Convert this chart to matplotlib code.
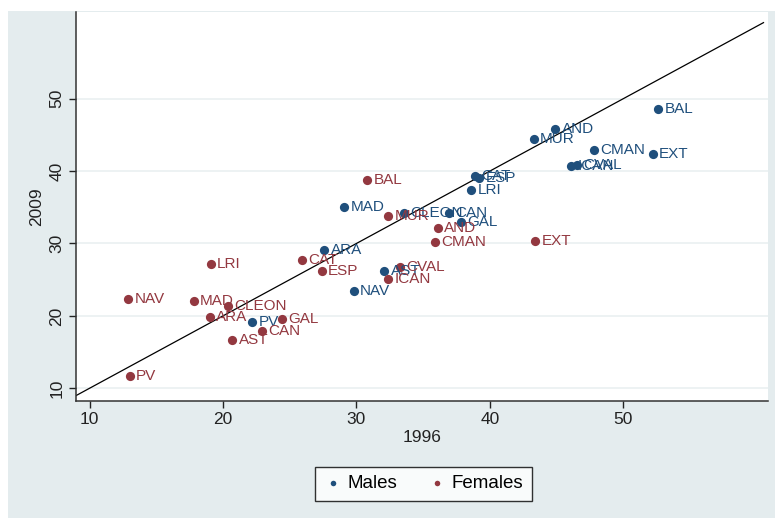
import matplotlib

matplotlib.use("Agg")

import matplotlib.pyplot as plt
from matplotlib.patches import Rectangle

plt.rcParams["font.family"] = ["Liberation Sans", "DejaVu Sans"]

# Datos (1996 vs 2009)
regiones_h = ["BAL", "AND", "MUR", "CMAN", "EXT", "ICAN", "CVAL", "CAT", "ESP", "LRI",
              "GAL", "CAN", "CLEON", "MAD", "ARA", "AST", "NAV", "PV"]
h_1996 = [52.6, 44.9, 43.3, 47.8, 52.2, 46.1, 46.5, 38.9, 39.2, 38.6,
          37.8, 36.9, 33.6, 29.1, 27.6, 32.1, 29.8, 22.2]
h_2009 = [48.6, 45.8, 44.4, 42.9, 42.3, 40.7, 40.8, 39.3, 39.0, 37.4,
          32.9, 34.2, 34.2, 35.0, 29.1, 26.2, 23.5, 19.2]

regiones_m = ["BAL", "MUR", "AND", "CMAN", "EXT", "CAT", "ESP", "CVAL", "ICAN", "LRI",
              "NAV", "MAD", "CLEON", "ARA", "GAL", "CAN", "AST", "PV"]
m_1996 = [30.8, 32.4, 36.1, 35.9, 43.4, 25.9, 27.4, 33.3, 32.4, 19.1,
          12.9, 17.8, 20.4, 19.0, 24.4, 22.9, 20.7, 13.0]
m_2009 = [38.7, 33.8, 32.1, 30.2, 30.3, 27.7, 26.2, 26.7, 25.1, 27.1,
          22.3, 22.0, 21.4, 19.9, 19.5, 17.9, 16.7, 11.7]

linea_45 = [9.0, 60.5]

AZUL = "#1f4f7c"
ROJO = "#933840"
FONDO = "#e4ecee"

fig = plt.figure(figsize=(7.75, 5.21), dpi=100)
fig.patches.append(Rectangle((8 / 775, 3 / 521), 1 - 8 / 775, 1 - 14 / 521,
                             transform=fig.transFigure, facecolor=FONDO,
                             edgecolor="none", zorder=-10))
ax = fig.add_axes([0.0981, 0.2311, 0.8929, 0.7459])
ax.set_facecolor("white")

ax.plot(linea_45, linea_45, color="black", linewidth=0.9, zorder=2)

for nombres, xs, ys, color, etiqueta in [
    (regiones_h, h_1996, h_2009, AZUL, "Males"),
    (regiones_m, m_1996, m_2009, ROJO, "Females"),
]:
    ax.scatter(xs, ys, s=44, color=color, label=etiqueta, zorder=3, linewidths=0)
    for nombre, x, y in zip(nombres, xs, ys):
        ax.annotate(nombre, (x, y), xytext=(4.5, 0), textcoords="offset points",
                    va="center", ha="left", color=color, fontsize=11, zorder=4)

ax.set_xlim(8.99, 60.84)
ax.set_ylim(8.3, 61.97)
ax.set_xticks([10, 20, 30, 40, 50])
ax.set_yticks([10, 20, 30, 40, 50])
ax.tick_params(axis="both", direction="out", length=5, width=1, labelsize=12.5,
               colors="#222222")
for lab in ax.get_yticklabels():
    lab.set_rotation(90)
    lab.set_va("center")
ax.grid(axis="y", color="#eaf0f1", linewidth=1.2)
ax.set_axisbelow(True)
for lado in ["top", "right"]:
    ax.spines[lado].set_visible(False)
for lado in ["left", "bottom"]:
    ax.spines[lado].set_color("#333333")
    ax.spines[lado].set_linewidth(1.1)

ax.set_xlabel("1996", fontsize=12.5, color="#222222", labelpad=2)
ax.set_ylabel("2009", fontsize=12.5, color="#222222", labelpad=4)

leg = ax.legend(loc="center", bbox_to_anchor=(423.5 / 775, 1 - 483.7 / 521),
                bbox_transform=fig.transFigure, ncol=2, fontsize=13.5,
                markerscale=0.6, handletextpad=0.3, columnspacing=1.6,
                frameon=True, fancybox=False, borderpad=0.45, handlelength=1.0)
leg.get_frame().set_edgecolor("black")
leg.get_frame().set_linewidth(1.0)

fig.savefig("out.png", dpi=100, facecolor="white")
